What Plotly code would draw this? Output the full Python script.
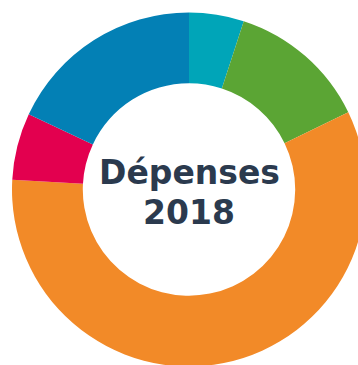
import plotly.graph_objects as go

# Data (share of spending, %), clockwise from 12 o'clock
categories = ["Catégorie 1", "Catégorie 2", "Catégorie 3", "Catégorie 4", "Catégorie 5"]
values = [5.0, 12.8, 58.0, 6.1, 18.0]
colors = ["#00A5B8", "#5BA534", "#F28A28", "#E3004F", "#0380B5"]
center_lines = ["Dépenses", "2018"]

W, H = 378, 378
cx, cy, R = 189, 189.5, 177

fig = go.Figure(go.Pie(
    labels=categories,
    values=values,
    marker=dict(colors=colors, line=dict(width=0)),
    hole=0.6,
    sort=False,
    direction="clockwise",
    rotation=0,
    textinfo="none",
    hoverinfo="label+percent",
    domain=dict(x=[(cx - R) / W, (cx + R) / W], y=[1 - (cy + R) / H, 1 - (cy - R) / H]),
))

for txt, py in zip(center_lines, [172, 212]):
    fig.add_annotation(
        text=f"<b>{txt}</b>", x=cx / W, y=1 - py / H, xref="paper", yref="paper",
        showarrow=False, xanchor="center", yanchor="middle",
        font=dict(family="DejaVu Sans", size=33, color="#2B3A4E"),
    )

fig.update_layout(
    width=W, height=H, margin=dict(l=0, r=0, t=0, b=0),
    showlegend=False, paper_bgcolor="white", plot_bgcolor="white",
)

fig.write_html(
    "out.html",
    post_script="document.documentElement.style.overflow='hidden';document.body.style.overflow='hidden';",
)
